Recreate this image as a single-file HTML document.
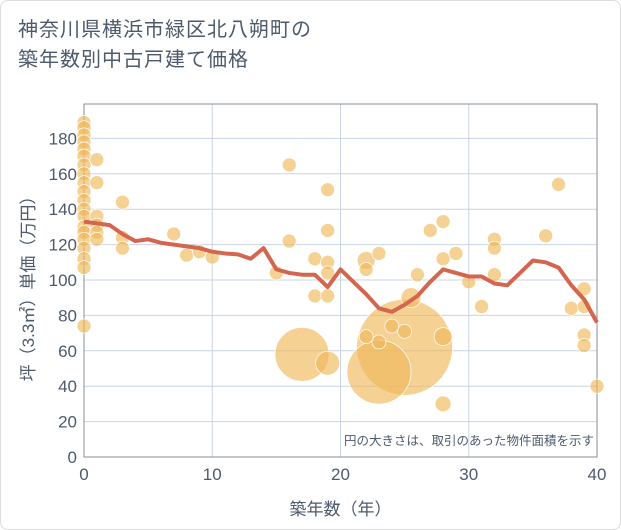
<!DOCTYPE html>
<html><head><meta charset="utf-8"><style>
body{margin:0;background:#fff;}
#wrap{position:relative;width:621px;height:530px;font-family:"Liberation Sans","Noto Sans CJK JP",sans-serif;border:1px solid #ddd;box-sizing:border-box;border-radius:8px;overflow:hidden}
#title{position:absolute;left:17px;top:14px;font-size:20px;line-height:30px;color:#4d5a6b;letter-spacing:1px}
svg{position:absolute;left:0;top:0}
</style></head><body>
<div id="wrap">
<div id="title">神奈川県横浜市緑区北八朔町の<br>築年数別中古戸建て価格</div>
<svg id="chart" width="621" height="530"></svg>
</div>
<script>
const xTicks=[0,10,20,30,40];
const yTicks=[0,20,40,60,80,100,120,140,160,180];
const lineX=[0,1,2,3,4,5,6,7,8,9,10,11,12,13,14,15,16,17,18,19,20,21,22,23,24,25,26,27,28,29,30,31,32,33,34,35,36,37,38,39,40];
const lineY=[133,132,131,126,122,123,121,120,119,118,116,115,114.5,112,118,106,104,103,103,96,106,99,92,84,82,86,91,99,106,104,102,102,98,97,104,111,110,107,97,89,76];
const ptX=[0,0,0,0,0,0,0,0,0,0,0,0,0,0,0,0,0,0,0,0,1,1,1,1,1,1,3,3,3,7,8,9,10,15,16,16,17,18,18,19,19,19,19,19,19,22,22,23,25,23,22,23,24,25,28,26,25.5,27,28,28,29,28,30,31,32,32,32,36,37,38,39,39,39,39,40];
const ptY=[189,186,182,178,174,170,165,160,155,150,145,140,136,130,127,123,118,112,107,74,168,155,136,131,127,123,144,124,118,126,114,116,113,104,165,122,58,112,91,151,128,110,104,91,53,111,106,115,62,48,68,65,74,71,68,103,90,128,133,112,115,30,99,85,123,118,103,125,154,84,95,85,69,63,40];
const ptR=[7,7,7,7,7,7,7,7,7,7,7,7,7,7,7,7,7,7,7,7,7,7,7,7,7,7,7,7,7,7,7,7,7,7,7,7,27,7,7,7,7,7,7,7,12,9,7,7,48,32,7,7,7,7,9,7,10,7,7,7,7,8,7,7,7,7,7,7,7,7,7,7,7,7,7];
const L=83,R=596,T=103,B=456;
const X=v=>L+v/40*(R-L);
const Y=v=>B-v/180*(B-137.4);
const svg=document.getElementById('chart');
const NS='http://www.w3.org/2000/svg';
function mk(t,a){const e=document.createElementNS(NS,t);for(const k in a)e.setAttribute(k,a[k]);svg.appendChild(e);return e;}
yTicks.forEach(v=>{const g=mk('line',{x1:L,x2:R,y1:Y(v),y2:Y(v),stroke:'#c9d4e4','stroke-width':1});


const t=mk('text',{x:L-7,y:Y(v)+6,'text-anchor':'end','font-size':17,fill:'#4d5a6b'});t.textContent=v;

});
xTicks.forEach(v=>{const g=mk('line',{x1:X(v),x2:X(v),y1:T,y2:B,stroke:'#c9d4e4','stroke-width':1});


const t=mk('text',{x:X(v),y:B+23,'text-anchor':'middle','font-size':17,fill:'#4d5a6b'});t.textContent=v;

});
const fr=mk('rect',{x:L,y:T,width:R-L,height:B-T,fill:'none',stroke:'#8a8f96','stroke-width':1});


ptX.forEach((x,i)=>{const c=mk('circle',{cx:X(x),cy:Y(ptY[i]),r:ptR[i],fill:'#f0b85a','fill-opacity':0.65,stroke:'#fff','stroke-width':0.7});

});
const p=mk('polyline',{points:lineX.map((x,i)=>X(x)+','+Y(lineY[i])).join(' '),fill:'none',stroke:'#d4664f','stroke-width':4,'stroke-linejoin':'round'});


const n=mk('text',{x:R-3,y:B-12,'text-anchor':'end','font-size':12.5,fill:'#4d5a6b'});n.textContent='円の大きさは、取引のあった物件面積を示す';


const xt=mk('text',{x:(L+R)/2,y:B+58,'text-anchor':'middle','font-size':17,fill:'#4d5a6b'});xt.textContent='築年数（年）';


const yt=mk('text',{x:0,y:0,'text-anchor':'middle','font-size':17,fill:'#4d5a6b',transform:'translate(33,'+((T+B)/2+4)+') rotate(-90)'});yt.textContent='坪（3.3㎡）単価（万円）';


</script>
</body></html>
